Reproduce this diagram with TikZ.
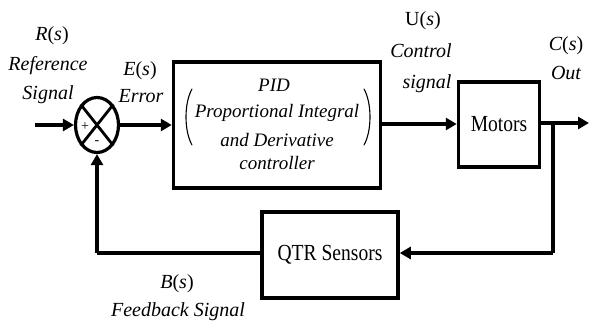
\documentclass[tikz,border=0pt]{standalone}
\usepackage{fontspec}
\setmainfont{Liberation Serif}
\usetikzlibrary{arrows.meta,shapes.geometric}
\tikzset{
  block/.style={draw, line width=3.5pt, inner sep=0pt},
  sig/.style={line width=3.8pt, -{Triangle[length=11pt,width=12pt]}},
  wire/.style={line width=3.8pt},
  lbl/.style={font=\fontsize{20}{22}\selectfont\itshape, anchor=base, inner sep=0pt},
  pidtxt/.style={font=\fontsize{19}{21}\selectfont\itshape, anchor=base, inner sep=0pt},
  boxtxt/.style={font=\fontsize{23}{25}\selectfont, inner sep=0pt},
  paren/.style={line width=1.1pt, line cap=round}
}
\begin{document}
\begin{tikzpicture}[x=1pt,y=-1pt]
\useasboundingbox (0,0) rectangle (589,323);

% blocks
\node[block, minimum width=207pt, minimum height=126pt] (pid) at (277,125) {};
\node[block, minimum width=81pt, minimum height=85pt] (mot) at (499,124.5) {};
\node[block, minimum width=136pt, minimum height=86pt] (qtr) at (330,255) {};
\node[boxtxt] at (mot.center) {\scalebox{0.85}[1]{Motors}};
\node[boxtxt] at (qtr.center) {\scalebox{0.85}[1]{QTR Sensors}};

% summing junction
\node[draw, ellipse, line width=3.2pt, minimum width=43pt, minimum height=55pt, inner sep=0pt] (sum) at (97,125) {};
\draw[line width=2.8pt] (sum.north west) -- (sum.south east);
\draw[line width=2.8pt] (sum.north east) -- (sum.south west);
\node[font=\fontsize{14}{14}\selectfont, inner sep=0pt] at (85,127) {+};
\node[font=\fontsize{14}{14}\selectfont, inner sep=0pt] at (97,143) {-};

% free ends
\coordinate (in) at (35,125);
\coordinate (out) at (589,123);
\coordinate (br) at (553,123);
\coordinate (brd) at (553,253);
\coordinate (fbl) at (97,253);

% forward path
\draw[sig] (in) -- (sum.west);
\draw[sig] (sum.east) -- (pid.west |- sum.east);
\draw[sig] (pid.east |- 0,124) -- (mot.west |- 0,124);
\draw[sig] (mot.east |- out) -- (out);

% feedback path
\draw[wire] (br) -- (brd);
\draw[sig] (brd) -- (qtr.east |- brd);
\draw[wire] (qtr.west |- fbl) -- (fbl);
\draw[sig] (fbl) -- (sum.south);

% PID text
\node[pidtxt] at (274,92) {PID};
\node[pidtxt] at (277,118) {Proportional Integral};
\node[pidtxt] at (277,147) {and Derivative};
\node[pidtxt] at (277,170) {controller};
\draw[paren] (192,89) .. controls (184,103) and (184,131) .. (192,145);
\draw[paren] (364,89) .. controls (372,103) and (372,131) .. (364,145);

% signal labels
\node[lbl] at (52,41) {R\upshape(\itshape s\upshape)};
\node[lbl] at (48,71) {Reference};
\node[lbl] at (48,100) {Signal};
\node[lbl] at (140,76) {E\upshape(\itshape s\upshape)};
\node[lbl] at (141,103) {Error};
\node[lbl] at (423,26) {\upshape U(\itshape s\upshape)};
\node[lbl] at (421,58) {Control};
\node[lbl] at (427,89) {signal};
\node[lbl] at (566,51) {C\upshape(\itshape s\upshape)};
\node[lbl] at (566,80) {Out};
\node[lbl] at (177,288) {B\upshape(\itshape s\upshape)};
\node[lbl] at (178,316) {Feedback Signal};
\end{tikzpicture}
\end{document}
